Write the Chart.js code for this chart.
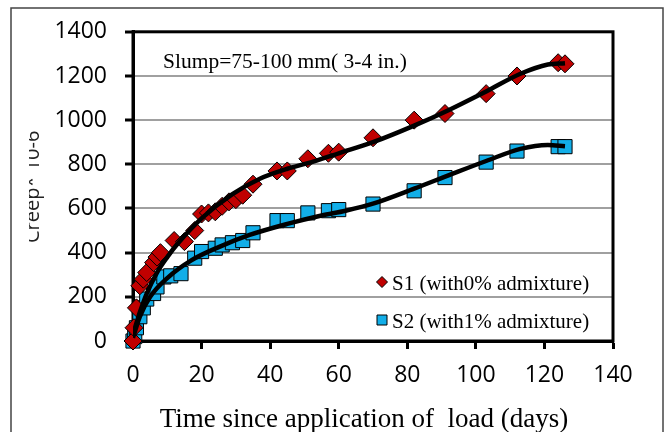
<!DOCTYPE html>
<html><head><meta charset="utf-8">
<script src="https://cdn.jsdelivr.net/npm/chart.js@4"></script>
<style>html,body{margin:0;padding:0;background:#fff;}canvas{display:block}</style>
</head><body>
<canvas id="c" width="668" height="432"></canvas>
<script>
// ---- data ----
const xTicks = [0, 20, 40, 60, 80, 100, 120, 140];
const yTicks = [0, 200, 400, 600, 800, 1000, 1200, 1400];

const s1Label = 'S1 (with0% admixture)';
const s1Days  = [0, 0.3, 1, 2, 3, 4, 6, 7, 8, 12, 15, 18, 20, 22, 24, 26, 28, 30, 32, 35, 42, 45, 51, 57, 60, 70, 82, 91, 103, 112, 124, 126];
const s1Creep = [0, 60, 150, 250, 280, 310, 355, 380, 400, 455, 450, 500, 575, 580, 585, 610, 630, 640, 660, 710, 770, 770, 825, 850, 855, 920, 1000, 1030, 1120, 1200, 1260, 1255];

const s2Label = 'S2 (with1% admixture)';
const s2Days  = [0, 0.5, 1, 2, 3, 4, 6, 7, 9, 11, 14, 18, 20, 24, 26, 29, 32, 35, 42, 45, 51, 57, 60, 70, 82, 91, 103, 112, 124, 126];
const s2Creep = [0, 20, 60, 110, 150, 190, 215, 245, 290, 295, 305, 375, 405, 420, 435, 445, 455, 490, 545, 545, 580, 590, 595, 620, 680, 740, 810, 860, 880, 880];

const t1Days  = [0, 2, 4, 7, 10, 13, 20, 29, 37, 45, 51, 60, 70, 82, 92, 103, 113, 121, 126];
const t1Creep = [30, 130, 215, 310, 380, 440, 555, 665, 735, 780, 805, 850, 900, 975, 1045, 1130, 1210, 1252, 1258];
const t2Days  = [0, 2, 5, 10, 17, 25, 34, 45, 55, 62, 70, 82, 92, 103, 113, 121, 126];
const t2Creep = [15, 110, 200, 285, 365, 425, 480, 530, 568, 590, 622, 690, 750, 815, 870, 888, 882];

const note = 'Slump=75-100 mm( 3-4 in.)';
const xTitle = 'Time since application of  load (days)';
const yTitle = 'Creep* 10-6';

const pts = (xs, ys) => xs.map((x, i) => ({x: x, y: ys[i]}));

const decor = {
  id: 'decor',
  beforeDraw(chart) {
    const ctx = chart.ctx;
    ctx.save();
    ctx.fillStyle = '#fff';
    ctx.fillRect(0, 0, chart.width, chart.height);
    ctx.strokeStyle = '#444';
    ctx.lineWidth = 1.5;
    ctx.strokeRect(11, 8, 652, 500);
    ctx.restore();
  },
  beforeDatasetsDraw(chart) {
    const a = chart.chartArea, ctx = chart.ctx;
    ctx.save();
    ctx.strokeStyle = '#000';
    ctx.lineWidth = 3;
    ctx.strokeRect(a.left, a.top, a.right - a.left, a.bottom - a.top);
    ctx.restore();
  },
  afterDraw(chart) {
    const ctx = chart.ctx;
    ctx.save();
    // annotation
    ctx.fillStyle = '#000';
    ctx.font = '21.5px "Liberation Serif", "Times New Roman", serif';
    ctx.textAlign = 'left';
    ctx.textBaseline = 'alphabetic';
    ctx.fillText(note, 163, 68);
    // x title
    ctx.font = '27px "Liberation Serif", "Times New Roman", serif';
    ctx.textAlign = 'center';
    ctx.fillText(xTitle, 364, 427);
    // y title (partly clipped as in the reference)
    ctx.save();
    ctx.beginPath();
    ctx.rect(29, 0, 40, 432);
    ctx.clip();
    ctx.translate(39, 243);
    ctx.rotate(-Math.PI / 2);
    ctx.font = '20px "Open Sans", sans-serif';
    ctx.fillStyle = '#222';
    ctx.textAlign = 'left';
    ctx.fillText(yTitle, 0, 0);
    ctx.restore();
    // legend
    const ds = chart.data.datasets;
    const rows = [{d: ds[2], y: 290, cy: 282}, {d: ds[3], y: 328, cy: 320}];
    ctx.font = '21px "Liberation Serif", "Times New Roman", serif';
    ctx.textAlign = 'left';
    rows.forEach(r => {
      ctx.fillStyle = r.d.backgroundColor;
      ctx.strokeStyle = '#000';
      ctx.lineWidth = 1;
      ctx.beginPath();
      if (r.d.pointStyle === 'rectRot') {
        ctx.moveTo(382, r.cy - 5.5); ctx.lineTo(387.5, r.cy); ctx.lineTo(382, r.cy + 5.5); ctx.lineTo(376.5, r.cy); ctx.closePath();
      } else {
        ctx.rect(377, r.cy - 5, 10, 10);
      }
      ctx.fill(); ctx.stroke();
      ctx.fillStyle = '#000';
      ctx.fillText(r.d.label, 392, r.y);
    });
    ctx.restore();
  }
};

const tickFont = {family: '"Open Sans", sans-serif', size: 23};

new Chart(document.getElementById('c'), {
  type: 'scatter',
  data: {
    datasets: [
      {label: 'trend1', data: pts(t1Days, t1Creep), showLine: true, borderColor: '#000', borderWidth: 4.5, pointRadius: 0, cubicInterpolationMode: 'monotone', fill: false},
      {label: 'trend2', data: pts(t2Days, t2Creep), showLine: true, borderColor: '#000', borderWidth: 4.5, pointRadius: 0, cubicInterpolationMode: 'monotone', fill: false},
      {label: s1Label, data: pts(s1Days, s1Creep), pointStyle: 'rectRot', pointRadius: 9, backgroundColor: '#C00000', borderColor: '#000', borderWidth: 1, clip: false},
      {label: s2Label, data: pts(s2Days, s2Creep), pointStyle: 'rect', pointRadius: 10, backgroundColor: '#12AEE8', borderColor: '#000', borderWidth: 1, clip: false}
    ]
  },
  options: {
    responsive: false,
    devicePixelRatio: 1,
    animation: false,
    layout: {padding: {left: 0, top: 30, right: 55, bottom: 0}},
    plugins: {legend: {display: false}, tooltip: {enabled: false}},
    scales: {
      x: {
        type: 'linear', min: 0, max: 140,
        afterFit(s) { s.height = 91; },
        afterBuildTicks(s) { s.ticks = xTicks.map(v => ({value: v})); },
        grid: {drawOnChartArea: false, drawTicks: true, tickLength: 8, tickColor: '#000', tickWidth: 3},
        border: {color: '#000', width: 3},
        ticks: {padding: 13, color: '#000', font: tickFont, callback: v => String(v)}
      },
      y: {
        type: 'linear', min: 0, max: 1400,
        afterFit(s) { s.width = 133; },
        afterBuildTicks(s) { s.ticks = yTicks.map(v => ({value: v})); },
        grid: {color: '#a0a0a0', lineWidth: 2, drawTicks: true, tickLength: 8, tickColor: '#000', tickWidth: 3},
        border: {color: '#000', width: 3},
        ticks: {padding: 18, color: '#000', font: tickFont, callback: v => String(v)}
      }
    }
  },
  plugins: [decor]
});
</script>
</body></html>
